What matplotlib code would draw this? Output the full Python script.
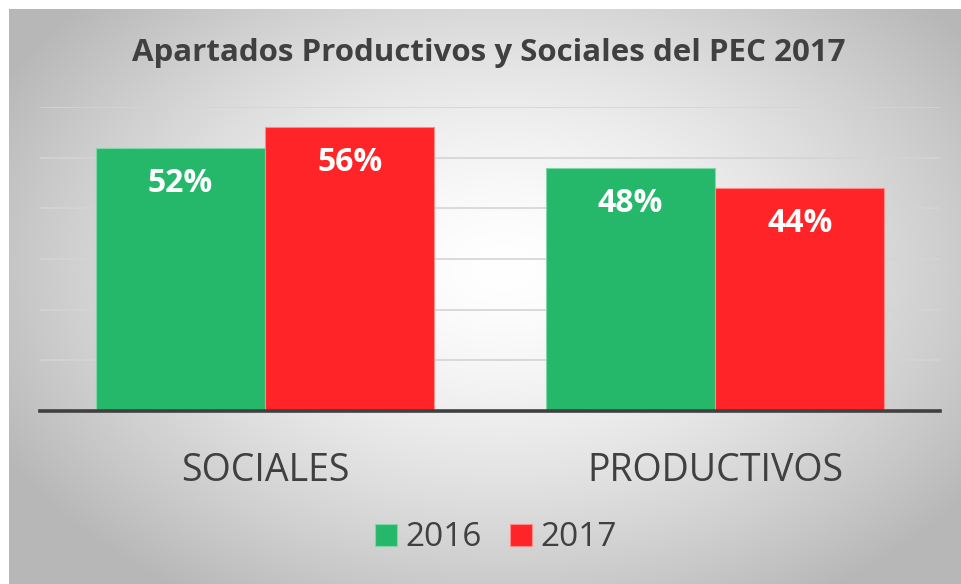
import matplotlib.pyplot as plt
import numpy as np

categories = ['SOCIALES', 'PRODUCTIVOS']
years = ['2016', '2017']
values_2016 = [52, 48]
values_2017 = [56, 44]
colors = ['#26B86A', '#FF2428']
edge_colors = ['#7FD6A6', '#FF8A8C']

plt.rcParams['font.family'] = ['Open Sans', 'DejaVu Sans']

fig = plt.figure(figsize=(9.61, 5.84), dpi=100)

# fondo con degradado radial (blanco al centro, gris en las esquinas)
bg = fig.add_axes([9 / 961, 0, 952 / 961, 575 / 584], zorder=-10)
yy, xx = np.mgrid[0:1:300j, 0:1:500j]
r = np.sqrt(((xx - 0.52) / 0.75) ** 2 + ((yy - 0.55) / 0.85) ** 2)
shade = 1.0 - 0.28 * np.clip(r / 0.8, 0, 1) ** 1.5
bg.imshow(np.dstack([shade] * 3), aspect='auto', extent=[0, 1, 0, 1], origin='lower')
bg.axis('off')

ax = fig.add_axes([40 / 961, 1 - 411 / 584, 900 / 961, (411 - 107) / 584])
ax.patch.set_alpha(0)

x = np.arange(len(categories))
w = 0.375
series = [values_2016, values_2017]
for i, vals in enumerate(series):
    pos = x + (i - 0.5) * (w + 0.002)
    bars = ax.bar(pos, vals, w, color=colors[i], edgecolor=edge_colors[i],
                  linewidth=0.8, label=years[i], zorder=3)
    for b, v in zip(bars, vals):
        ax.text(b.get_x() + b.get_width() / 2, v - 7.0, f'{v}%', ha='center',
                va='center', color='white', fontsize=23, fontweight='bold', zorder=4)

ax.set_xlim(-0.5, 1.5)
ax.set_ylim(0, 60)
ax.set_yticks(range(0, 61, 10))
ax.yaxis.grid(True, color='#D4D4D4', lw=1.2, zorder=0)
ax.tick_params(axis='y', left=False, labelleft=False)
ax.tick_params(axis='x', bottom=False, labelsize=27, labelcolor='#404040', pad=26)
ax.set_xticks(x)
ax.set_xticklabels(categories)
for s in ['top', 'right', 'left']:
    ax.spines[s].set_visible(False)
ax.spines['bottom'].set_color('#404040')
ax.spines['bottom'].set_linewidth(2.6)
ax.spines['bottom'].set_zorder(5)

fig.text(0.509, 1 - 53 / 584, 'Apartados Productivos y Sociales del PEC 2017',
         ha='center', va='center', fontsize=22.5, fontweight='bold', color='#404040')

fig.legend(loc='center', bbox_to_anchor=(496 / 961, 1 - 538 / 584), ncol=2, frameon=False,
           fontsize=24, labelcolor='#404040', handlelength=0.65, handleheight=0.65,
           handletextpad=0.25, columnspacing=0.85)

fig.savefig('out.png', dpi=100)
